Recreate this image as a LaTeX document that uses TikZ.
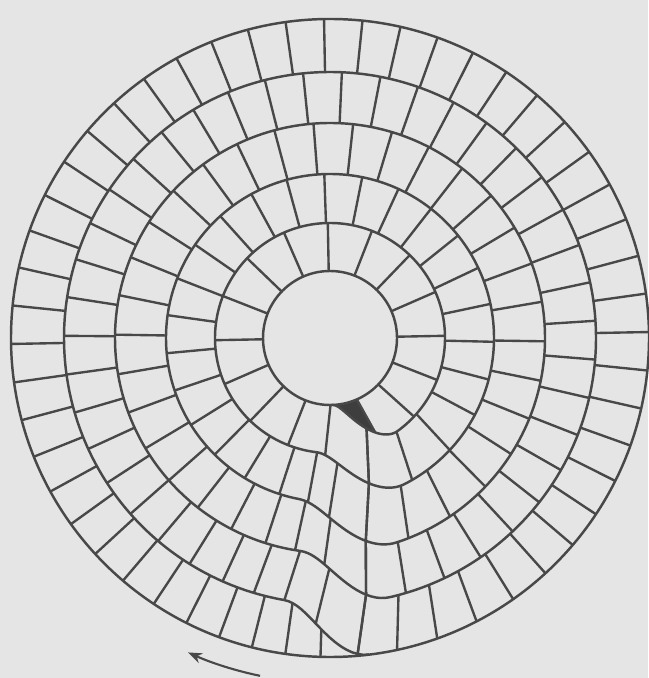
\documentclass[tikz,border=0pt]{standalone}
\usepackage{tikz}
\usetikzlibrary{arrows.meta}
\definecolor{paper}{RGB}{229,229,229}
\definecolor{ink}{RGB}{72,72,72}
\definecolor{dink}{RGB}{62,62,62}

\begin{document}
\begin{tikzpicture}[x=0.02cm,y=0.02cm,
    rim/.style={draw=ink,line width=1.4pt,line join=round},
    joint/.style={draw=ink,line width=1.35pt},
    ar/.style={-{Stealth[length=8pt,width=6pt]},line width=1.2pt,draw=ink},
    declare function={
      sm(\u)=(1-cos(180*max(0,min(1,\u))))/2;
      spr(\p)=67+48*sm((\p-272)/34)+49*sm((\p-623)/34)+51*sm((\p-979)/29)
              +51*sm((\p-1342)/21)+53*sm((\p-1700)/17);
      bmp(\u)=(1+cos(180*min(1,\u)))/2;
    }]
    \path[use as bounding box,fill=paper] (-330,-340) rectangle (318,338);
    % start mark
    \fill[dink] (272:67) -- plot[domain=272:295.6,samples=30] (\x:{spr(\x)})
      -- (293.6:67) arc[start angle=293.6,end angle=272,radius=67] -- cycle;
    \draw[rim] (0,0) circle[radius=67];
    \draw[rim] (0,0) circle[radius=319];
    \draw[rim] plot[domain=272:1717,samples=1446] (\x:{spr(\x)});
    % bricks, lap by lap
    \foreach \k/\a/\b/\c/\d/\n in {0/293.6/295.6/292/285/16,1/292/285/285/280/27,
        2/285/280/280/278/34,3/280/278/278/275/43,4/278/275/275/275/52}{
      \foreach \i in {0,...,\n}{
        \pgfmathsetmacro\ps{\a+\i/\n*360}
        \pgfmathsetmacro\tin{\ps+(\c-\a)*bmp((\a+360-\ps)/40)}
        \pgfmathsetmacro\tout{\ps+(\b-\a)*bmp((\ps-\a)/40)+(\d-\a)*bmp((\a+360-\ps)/40)}
        \draw[joint] (\tin:{spr(\tin+360*\k-360)}) -- (\tout:{spr(\tout+360*\k)});
      }
    }
    \coordinate (arrfrom) at (258.3:345);
    \draw[ar] (arrfrom) arc[start angle=258.3,end angle=245.7,radius=345];
\end{tikzpicture}
\end{document}
